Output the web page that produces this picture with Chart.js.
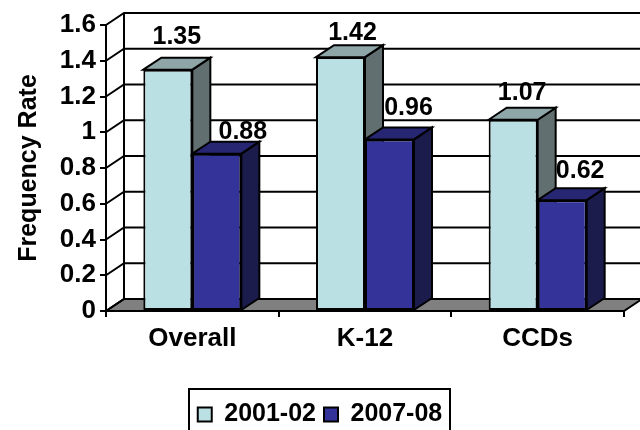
<!DOCTYPE html>
<html>
<head>
<meta charset="utf-8">
<title>Frequency Rate</title>
<script src="https://cdn.jsdelivr.net/npm/chart.js@4"></script>
<style>
  html, body { margin: 0; padding: 0; background: #fff; overflow: hidden; }
  canvas { display: block; }
</style>
</head>
<body>
<canvas id="rateChart" width="640" height="430"></canvas>
<script>
const categories = ['Overall', 'K-12', 'CCDs'];
const series2001 = [1.35, 1.42, 1.07];
const series2007 = [0.88, 0.96, 0.62];
const tickLabels = ['0', '0.2', '0.4', '0.6', '0.8', '1', '1.2', '1.4', '1.6'];

const FONT = '"Liberation Sans", Arial, sans-serif';
const depthX = 18;
const depthY = 12;

// hand placed value labels: x shift from bar centre, baseline shift from bar top
const labelShift = [
  [[9, -26], [12, -17], [9, -20]],
  [[26, -15], [19, -24], [18, -22]]
];
// top and side colours of each series
const faceColors = [
  { top: '#8FA6A9', side: '#626F70' },
  { top: '#262673', side: '#1B1B4C' }
];

function poly(ctx, pts, fill) {
  ctx.beginPath();
  pts.forEach((p, i) => i ? ctx.lineTo(p[0], p[1]) : ctx.moveTo(p[0], p[1]));
  ctx.closePath();
  if (fill) {
    ctx.fillStyle = fill;
    ctx.fill();
  }
  ctx.stroke();
}

const fake3d = {
  id: 'fake3d',
  beforeDatasetsDraw(chart) {
    const ctx = chart.ctx;
    const area = chart.chartArea;
    const y = chart.scales.y;
    const wallRight = chart.width + 2;
    ctx.save();
    ctx.strokeStyle = '#000';
    ctx.lineWidth = 2;

    // floor
    poly(ctx, [
      [area.left, area.bottom],
      [area.left + depthX, area.bottom - depthY],
      [wallRight, area.bottom - depthY],
      [wallRight - depthX, area.bottom]
    ], '#808080');

    // back wall gridlines and the slanted bits on the side wall
    tickLabels.forEach((t, i) => {
      const py = y.getPixelForValue(i * 0.2);
      ctx.beginPath();
      ctx.moveTo(area.left, py);
      ctx.lineTo(area.left + depthX, py - depthY);
      ctx.lineTo(wallRight, py - depthY);
      ctx.stroke();
    });
    ctx.beginPath();
    ctx.moveTo(area.left + depthX, area.top - depthY);
    ctx.lineTo(area.left + depthX, area.bottom - depthY);
    ctx.stroke();

    // extruded faces, behind the front rectangles the library draws
    chart.data.datasets.forEach((ds, d) => {
      chart.getDatasetMeta(d).data.forEach(bar => {
        const p = bar.getProps(['x', 'y', 'base', 'width'], true);
        const l = p.x - p.width / 2;
        const r = p.x + p.width / 2;
        poly(ctx, [[r, p.y], [r + depthX, p.y - depthY], [r + depthX, p.base - depthY], [r, p.base]], faceColors[d].side);
        poly(ctx, [[l, p.y], [l + depthX, p.y - depthY], [r + depthX, p.y - depthY], [r, p.y]], faceColors[d].top);
      });
    });
    ctx.restore();
  },
  afterDatasetsDraw(chart) {
    const ctx = chart.ctx;
    ctx.save();
    ctx.fillStyle = '#000';
    ctx.font = 'bold 25px ' + FONT;
    ctx.textAlign = 'center';
    ctx.textBaseline = 'alphabetic';
    chart.data.datasets.forEach((ds, d) => {
      chart.getDatasetMeta(d).data.forEach((bar, i) => {
        const s = labelShift[d][i];
        ctx.fillText(ds.data[i].toFixed(2), bar.x + s[0], bar.y + s[1]);
      });
    });
    ctx.restore();
  },
  afterDraw(chart) {
    // frame round the legend, its lower edge runs off the canvas
    const ctx = chart.ctx;
    const lg = chart.legend;
    ctx.save();
    ctx.strokeStyle = '#000';
    ctx.lineWidth = 2;
    ctx.strokeRect(189, lg.top - 5, 261, 60);
    ctx.restore();
  }
};

new Chart(document.getElementById('rateChart'), {
  type: 'bar',
  data: {
    labels: categories,
    datasets: [
      { label: '2001-02', data: series2001, backgroundColor: '#BAE0E3', borderColor: '#000', borderWidth: 2, borderSkipped: false },
      { label: '2007-08', data: series2007, backgroundColor: '#333399', borderColor: '#000', borderWidth: 2, borderSkipped: false }
    ]
  },
  options: {
    responsive: false,
    animation: false,
    categoryPercentage: 0.5676,
    barPercentage: 1,
    layout: { padding: { left: 16, right: 16, top: 25, bottom: -7 } },
    plugins: {
      tooltip: { enabled: false },
      legend: {
        position: 'bottom',
        labels: {
          color: '#000',
          font: { family: FONT, weight: 'bold', size: 25 },
          boxWidth: 14,
          boxHeight: 14,
          padding: 8
        }
      }
    },
    scales: {
      x: {
        afterFit(scale) { scale.height = 83; },
        grid: { drawOnChartArea: false, color: '#000', lineWidth: 2, tickLength: 6, tickColor: '#000' },
        border: { color: '#000', width: 2 },
        ticks: { color: '#000', font: { family: FONT, weight: 'bold', size: 26 }, padding: 6, maxRotation: 0 }
      },
      y: {
        min: 0,
        max: 1.6,
        afterFit(scale) { scale.width = 90; },
        grid: { drawOnChartArea: false, color: '#000', lineWidth: 2, tickLength: 6, tickColor: '#000' },
        border: { color: '#000', width: 2 },
        title: { display: true, text: 'Frequency Rate', color: '#000', font: { family: FONT, weight: 'bold', size: 25 }, padding: { top: -2, bottom: 0 } },
        ticks: {
          stepSize: 0.2,
          color: '#000',
          font: { family: FONT, weight: 'bold', size: 26 },
          padding: 4,
          callback(value, index) { return tickLabels[index]; }
        }
      }
    }
  },
  plugins: [fake3d]
});
</script>
</body>
</html>
